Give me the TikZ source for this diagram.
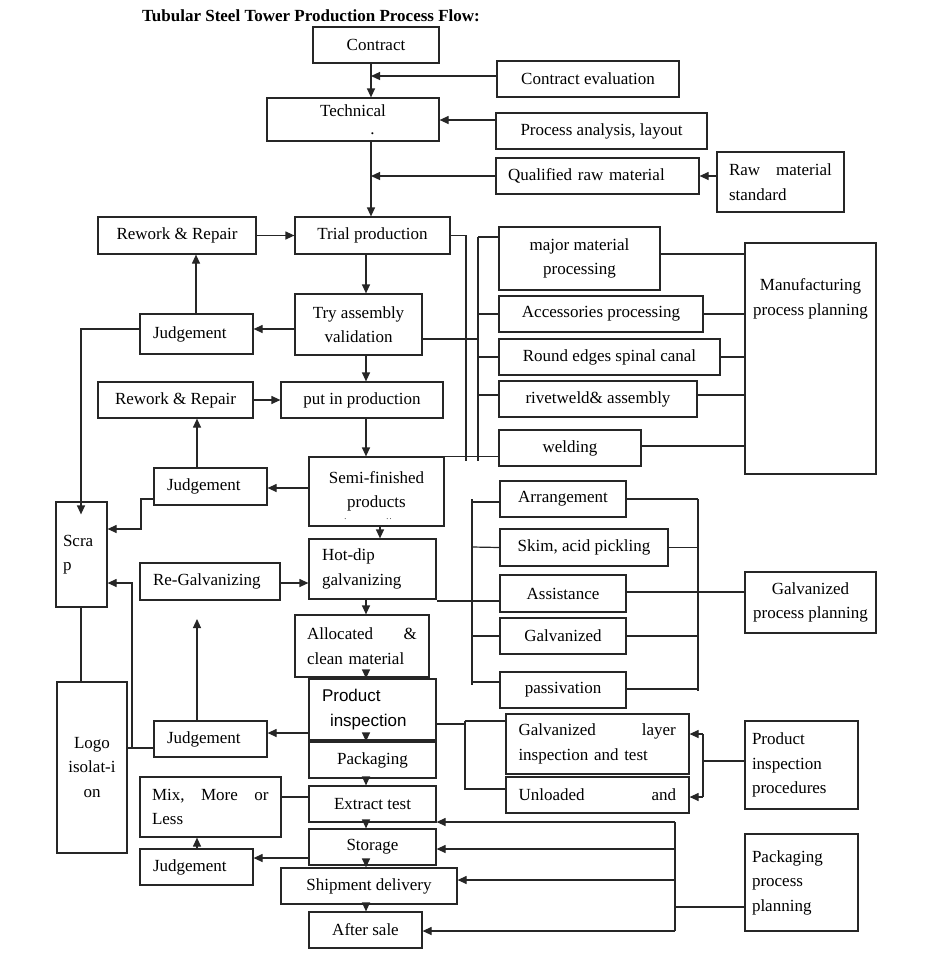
\documentclass[tikz,border=0pt]{standalone}
\usepackage{fontspec}
\setmainfont{Liberation Serif}
\newfontfamily\arialfont{Liberation Sans}
\usetikzlibrary{arrows.meta,calc}
\tikzset{
 box/.style={draw=black!85,line width=1.2pt,inner sep=0pt,align=center},
 ln/.style={draw=black!85,line width=1.2pt},
 arr/.style={ln,-{Triangle[length=9pt,width=8pt]}},
 lbox/.style={align=left,text width=#1},
}
\newcommand{\bx}[7][]{\node[box,minimum width={#5-#3},minimum height={#6-#4},#1] (#2) at ({(#3+#5)/2},{(#4+#6)/2}) {#7};}
\begin{document}
\begin{tikzpicture}[x=1pt,y=-1pt,every node/.style={font=\fontsize{17}{24.5}\selectfont}]
\fill[white] (0,0) rectangle (930,962);
\useasboundingbox (0,0) rectangle (930,962);
\node[font=\bfseries\fontsize{17}{20}\selectfont] (title) at (311,16) {Tubular Steel Tower Production Process Flow:};
% boxes
\bx{contract}{313}{27}{439}{63}{Contract}
\bx{ceval}{497}{61}{679}{97}{Contract evaluation}
\bx{tech}{267}{98}{439}{141}{Technical\\[-6pt]\hspace*{39pt}.}
\bx{pa}{496}{113}{707}{149}{Process analysis, layout}
\bx[lbox=179pt]{qrm}{496}{158}{699}{194}{Qualified raw material}
\bx[lbox=103pt]{rms}{717}{152}{844}{212}{Raw\hspace{16pt}material\\standard}
\bx{rw1}{98}{217}{256}{254}{Rework \& Repair}
\bx{trial}{295}{217}{450}{254}{Trial production}
\bx{try}{295}{294}{422}{355}{Try assembly\\validation}
\bx[lbox=87pt]{j1}{140}{314}{253}{354}{Judgement}
\bx{mm}{499}{227}{660}{290}{major material\\processing}
\bx{acc}{499}{296}{703}{332}{Accessories processing}
\bx{rounde}{499}{339}{720}{375}{Round edges spinal canal}
\bx{rivet}{499}{381}{697}{417}{rivetweld\& assembly}
\bx{weld}{499}{430}{641}{466}{welding}
\bx{mpp}{745}{243}{876}{474}{}
\node[align=center] (mpptext) at (810.5,299) {Manufacturing\\process planning};
\bx{rw2}{98}{382}{253}{418}{Rework \& Repair}
\bx{pip}{281}{382}{443}{418}{put in production}
\bx{semi}{309}{457}{444}{526}{Semi-finished\\products}
\node[inner sep=0pt,font=\fontsize{8}{8}\selectfont] (semidots) at (368,519) {.\hspace{40pt}.\,.};
\bx[lbox=87pt]{j2}{154}{468}{267}{505}{Judgement}
\bx[lbox=37pt]{scrap}{56}{502}{107}{607}{Scra\\p}
\bx[lbox=101pt]{hdg}{309}{539}{436}{599}{Hot-dip\\galvanizing}
\bx[lbox=114pt]{rg}{140}{563}{280}{600}{Re-Galvanizing}
\bx[lbox=110pt]{alloc}{295}{615}{429}{677}{Allocated\hspace{30.5pt}\&\\clean material}
\bx{arrange}{500}{481}{626}{517}{Arrangement}
\bx{skim}{500}{529}{668}{566}{Skim, acid pickling}
\bx{assist}{500}{575}{626}{612}{Assistance}
\bx{galv}{500}{618}{626}{654}{Galvanized}
\bx{pass}{500}{672}{626}{708}{passivation}
\bx{gpp}{745}{572}{876}{633}{Galvanized\\process planning}
\bx[lbox=101pt,font=\arialfont\fontsize{17}{24.5}\selectfont]{pinsp}{309}{679}{436}{740}{Product\\\hspace*{8pt}inspection}
\bx[lbox=87pt]{j3}{154}{721}{267}{757}{Judgement}
\bx{logo}{57}{682}{127}{853}{Logo\\isolat-i\\on}
\bx{pack}{309}{742}{436}{778}{Packaging}
\bx{ext}{309}{786}{436}{822}{Extract test}
\bx{stor}{309}{829}{436}{865}{Storage}
\bx{ship}{281}{868}{457}{904}{Shipment delivery}
\bx{aftersale}{309}{912}{422}{948}{After sale}
\bx[lbox=117pt]{mix}{140}{777}{281}{837}{Mix,\hspace{16.5pt}More\hspace{16.5pt}or\\Less}
\bx[lbox=87pt]{j4}{140}{849}{253}{885}{Judgement}
\bx[lbox=158pt]{gl}{506}{714}{689}{774}{Galvanized\hspace{46pt}layer\\inspection and test}
\bx[lbox=158pt]{ua}{506}{777}{689}{813}{Unloaded\hspace{67pt}and}
\bx[lbox=99pt]{pproc}{745}{721}{858}{809}{Product\\inspection\\procedures}
\bx[lbox=99pt]{ppp}{745}{834}{858}{931}{Packaging\\process\\planning}
% connectors: top
\draw[arr] (contract.south -| 371,0) -- (tech.north -| 371,0);
\draw[arr] (ceval.west |- 0,76) -- (371,76);
\draw[arr] (pa.west |- 0,120) -- (tech.east |- 0,120);
\draw[arr] (tech.south -| 371,0) -- (trial.north -| 371,0);
\draw[arr] (qrm.west) -- (qrm.west -| 371,0);
\draw[arr] (rms.west |- qrm.east) -- (qrm.east);
% trial / try
\draw[arr] (rw1.east) -- (trial.west);
\draw[arr] (trial.south -| 366,0) -- (try.north -| 366,0);
\draw[arr] (try.west |- 0,329) -- (j1.east |- 0,329);
\draw[arr] (j1.north -| 196,0) -- (rw1.south -| 196,0);
\draw[arr] (j1.west |- 0,329) -- (81,329) -- ($(scrap.north -| 81,0)+(0,13)$);
% manufacturing bracket
\draw[ln] (trial.east) -- (trial.east -| 466,0) -- (466,461);
\draw[ln] (478,237) -- (478,461);
\draw[ln] (478,237) -- (mm.west |- 0,237);
\draw[ln] (478,314) -- (acc.west);
\draw[ln] (478,357) -- (rounde.west);
\draw[ln] (478,395) -- (rivet.west |- 0,395);
\draw[ln] (try.east |- 0,339) -- (478,339);
\draw[ln] (semi.north east) -- (weld.west |- semi.north east);
\draw[ln] (mm.east |- 0,254) -- (mpp.west |- 0,254);
\draw[ln] (acc.east) -- (acc.east -| mpp.west);
\draw[ln] (rounde.east) -- (rounde.east -| mpp.west);
\draw[ln] (rivet.east |- 0,395) -- (mpp.west |- 0,395);
\draw[ln] (weld.east |- 0,446) -- (mpp.west |- 0,446);
% production
\draw[arr] (rw2.east) -- (pip.west);
\draw[arr] (try.south -| 366,0) -- (pip.north -| 366,0);
\draw[arr] (pip.south -| 366,0) -- (semi.north -| 366,0);
\draw[arr] (semi.west |- 0,488) -- (j2.east |- 0,488);
\draw[arr] (j2.north -| 197,0) -- (rw2.south -| 197,0);
\draw[arr] (j2.west |- 0,499) -- (141,499) -- (141,529) -- (scrap.east |- 0,529);
\draw[arr] (semi.south -| 380,0) -- (hdg.north -| 380,0);
\draw[arr] (rg.east |- 0,583) -- (hdg.west |- 0,583);
\draw[arr] (hdg.south -| 366,0) -- (alloc.north -| 366,0);
\draw[ln] (hdg.east |- 0,601) -- (assist.west |- 0,601);
% galvanizing brackets
\draw[ln] (472,499) -- (472,685);
\draw[ln] (472,502) -- (arrange.west |- 0,502);
\draw[ln] (472,547) -- (skim.west);
\draw[ln] (472,636) -- (galv.west);
\draw[ln] (472,682) -- (pass.west |- 0,682);
\draw[ln] (698,499) -- (698,691);
\draw[ln] (arrange.east) -- (arrange.east -| 698,0);
\draw[ln] (skim.east) -- (skim.east -| 698,0);
\draw[ln] (assist.east |- 0,592) -- (gpp.west |- 0,592);
\draw[ln] (galv.east) -- (galv.east -| 698,0);
\draw[ln] (pass.east |- 0,689) -- (698,689);
% inspection
\draw[arr] (alloc.south -| 366,0) -- (pinsp.north -| 366,0);
\draw[arr] (pinsp.west |- 0,733) -- (j3.east |- 0,733);
\coordinate (upend) at (197,619);
\draw[arr] (j3.north -| 197,0) -- (upend);
\draw[ln] (j3.west |- 0,748) -- (logo.east |- 0,748);
\draw[arr] (132,748) -- (132,583) -- (scrap.east |- 0,583);
\draw[ln] (scrap.south -| 81,0) -- (logo.north -| 81,0);
\draw[arr] (pinsp.south -| 366,0) -- (pack.north -| 366,0);
\draw[ln] (pinsp.east |- 0,724) -- (465,724);
\draw[ln] (465,721) -- (465,790);
\draw[ln] (465,721) -- (gl.west |- 0,721);
\draw[ln] (465,789) -- (ua.west |- 0,789);
\draw[ln] (pproc.west |- 0,761) -- (703,761);
\draw[ln] (703,734) -- (703,797);
\draw[arr] (703,734) -- (gl.east |- 0,734);
\draw[arr] (703,797) -- (ua.east |- 0,797);
% packaging chain
\draw[arr] (pack.south -| 366,0) -- (ext.north -| 366,0);
\draw[arr] (ext.south -| 366,0) -- (stor.north -| 366,0);
\draw[arr] (stor.south -| 366,0) -- (ship.north -| 366,0);
\draw[arr] (ship.south -| 366,0) -- (aftersale.north -| 366,0);
\draw[ln] (ext.west |- 0,797) -- (mix.east |- 0,797);
\draw[arr] (stor.west |- 0,858) -- (j4.east |- 0,858);
\draw[arr] (j4.north -| 197,0) -- (mix.south -| 197,0);
\draw[ln] (ppp.west |- 0,907) -- (675,907);
\draw[ln] (675,822) -- (675,931);
\draw[arr] (675,822) -- (ext.east |- 0,822);
\draw[arr] (675,849) -- (stor.east |- 0,849);
\draw[arr] (675,880) -- (ship.east |- 0,880);
\draw[arr] (675,931) -- (aftersale.east |- 0,931);
\end{tikzpicture}
\end{document}
